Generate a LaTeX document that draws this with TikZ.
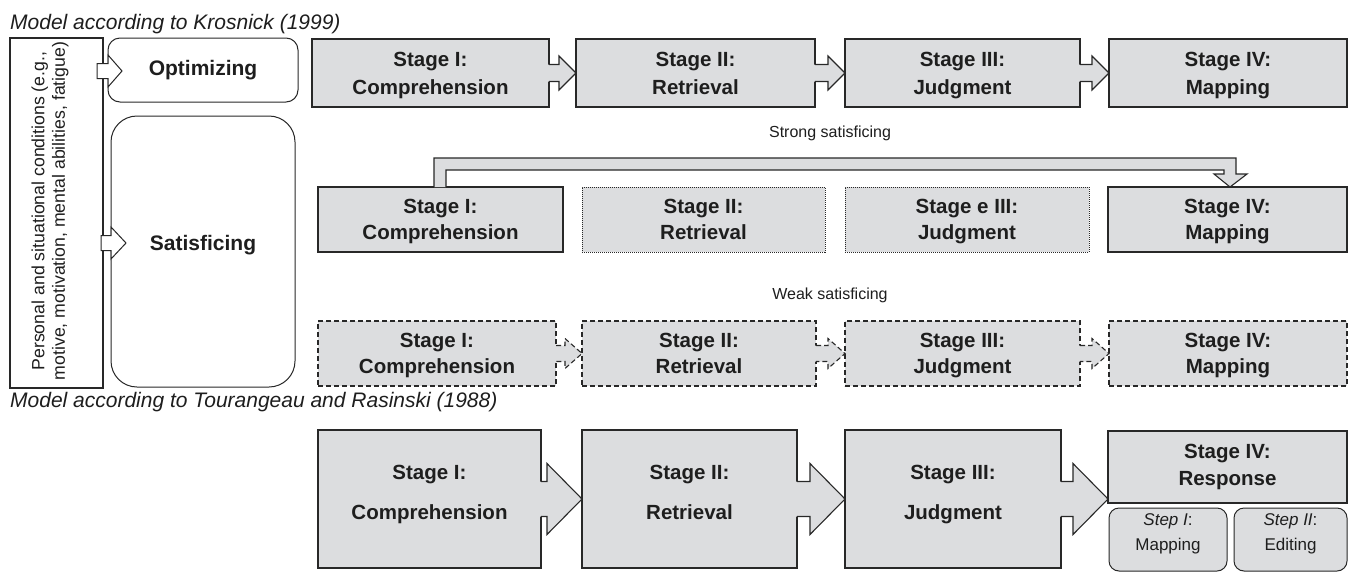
\documentclass[tikz,border=0pt]{standalone}
\usepackage{fontspec}
\setmainfont{Liberation Sans}
\usetikzlibrary{calc}
\definecolor{stagefill}{RGB}{220,221,223}
\definecolor{linecol}{RGB}{40,40,40}
\definecolor{textcol}{RGB}{30,30,30}
\newcommand\stagefont{\fontsize{20.5}{28}\selectfont\bfseries}
\newcommand\midstagefont{\fontsize{20.5}{26.5}\selectfont\bfseries}
\newcommand\bigstagefont{\fontsize{20.5}{40}\selectfont\bfseries}
\newcommand\respfont{\fontsize{20.5}{27}\selectfont\bfseries}
\newcommand\stepfont{\fontsize{17}{25}\selectfont}
\newcommand\twoline[2]{#1\\#2\vphantom{p}}
\newcommand\blockarr[6]{% #1 style, #2 from, #3 to, #4 head length, #5 shaft half, #6 head half
  \fill[stagefill] ($(#2.east)+(-1.5,-#5)$) -- ($(#3.west)+(-#4,-#5)$) -- ($(#3.west)+(-#4,-#6)$) -- (#3.west)
     -- ($(#3.west)+(-#4,#6)$) -- ($(#3.west)+(-#4,#5)$) -- ($(#2.east)+(-1.5,#5)$) -- cycle;
  \draw[#1] ($(#2.east)+(0,-#5)$) -- ($(#3.west)+(-#4,-#5)$) -- ($(#3.west)+(-#4,-#6)$) -- (#3.west)
     -- ($(#3.west)+(-#4,#6)$) -- ($(#3.west)+(-#4,#5)$) -- ($(#2.east)+(0,#5)$);
}
\tikzset{
  stagebox/.style={draw=linecol, fill=stagefill, line width=1.1pt, inner sep=0pt, outer sep=0pt,
    align=center, text=textcol, font=\stagefont},
  rowbox/.style={stagebox, text depth=0pt},
  midbox/.style={rowbox, font=\midstagefont},
  dottedbox/.style={midbox, line width=0.8pt, dash pattern=on 1pt off 1pt},
  dashedbox/.style={midbox, dash pattern=on 5pt off 3pt},
  plainbox/.style={draw=linecol, fill=white, line width=1.1pt, inner sep=0pt, outer sep=0pt},
  roundbox/.style={draw=linecol, fill=white, line width=1pt, inner sep=0pt, outer sep=0pt,
    align=center, text=textcol, font=\fontsize{21}{25}\selectfont\bfseries},
  solidarr/.style={draw=linecol, line width=1.1pt},
  dashedarr/.style={draw=linecol, line width=1.1pt, dash pattern=on 5pt off 3pt},
  titletext/.style={anchor=base west, inner sep=0pt, text=textcol, font=\fontsize{21}{25}\selectfont\itshape},
  labeltext/.style={inner sep=0pt, text=textcol, font=\fontsize{16}{19}\selectfont},
  stagetext/.style={inner sep=0pt, align=center, text=textcol},
  stepbox/.style={draw=linecol, fill=stagefill, line width=1pt, rounded corners=10pt, inner sep=0pt,
    outer sep=0pt},
  steptext/.style={inner sep=0pt, align=center, text=textcol, font=\stepfont},
}
\begin{document}
\begin{tikzpicture}[x=1pt,y=-1pt]
\useasboundingbox[fill=white] (0,0) rectangle (1349,571);

% titles
\node[titletext] (title1) at (10,29) {Model according to Krosnick (1999)};
\node[titletext] (title2) at (10,407) {Model according to Tourangeau and Rasinski (1988)};

% left column
\node[plainbox, minimum width=93, minimum height=350] (lbox) at (56.5,213) {};
\node[rotate=90, align=center, inner sep=0pt, text=textcol, font=\fontsize{17.7}{20.5}\selectfont] (ltext) at (50,211)
  {Personal and situational conditions (e.g.,\\motive, motivation, mental abilities, fatigue)};
\node[roundbox, rounded corners=12pt, minimum width=190, minimum height=64] (opt) at (203,70) {Optimizing};
\node[roundbox, rounded corners=26pt, minimum width=184, minimum height=271] (sat) at (203,251.5) {};
\node[stagetext, font=\fontsize{21}{25}\selectfont\bfseries] (sattext) at (203,245) {Satisficing};

\draw[draw=linecol, fill=white, line width=1pt]
  ($(opt.west)+(-11,-6.5)$) -- ($(opt.west)+(0,-6.5)$) -- ($(opt.west)+(0,-15)$) -- ($(opt.west)+(14,1)$)
  -- ($(opt.west)+(0,17)$) -- ($(opt.west)+(0,8.5)$) -- ($(opt.west)+(-11,8.5)$) -- cycle;
\coordinate (sa) at ($(sat.west)+(0,-8.5)$);
\draw[draw=linecol, fill=white, line width=1pt]
  ($(sa)+(-10,-7.5)$) -- ($(sa)+(0,-7.5)$) -- ($(sa)+(0,-16)$) -- ($(sa)+(15,0)$)
  -- ($(sa)+(0,16)$) -- ($(sa)+(0,7.5)$) -- ($(sa)+(-10,7.5)$) -- cycle;

% row 1: optimizing
\node[rowbox, minimum width=237, minimum height=68] (r1a) at (430.5,73) {\twoline{Stage I:}{Comprehension}};
\node[rowbox, minimum width=239, minimum height=68] (r1b) at (695.5,73) {\twoline{Stage II:}{Retrieval}};
\node[rowbox, minimum width=235, minimum height=68] (r1c) at (962.5,73) {\twoline{Stage III:}{Judgment}};
\node[rowbox, minimum width=238, minimum height=68] (r1d) at (1228,73) {\twoline{Stage IV:}{Mapping}};
\blockarr{solidarr}{r1a}{r1b}{17}{8.5}{17}
\blockarr{solidarr}{r1b}{r1c}{17}{8.5}{17}
\blockarr{solidarr}{r1c}{r1d}{17}{8.5}{17}

% row 2: strong satisficing
\node[labeltext] (strong) at (830,133) {Strong satisficing};
\node[midbox, minimum width=245, minimum height=65] (r2a) at (440.5,219.5) {\twoline{Stage I:}{Comprehension}};
\node[dottedbox, minimum width=243, minimum height=65] (r2b) at (703.5,219.5) {\twoline{Stage II:}{Retrieval}};
\node[dottedbox, minimum width=244, minimum height=65] (r2c) at (967,219.5) {\twoline{Stage e III:}{Judgment}};
\node[midbox, minimum width=239, minimum height=65] (r2d) at (1227.5,219.5) {\twoline{Stage IV:}{Mapping}};
\coordinate (tip) at ($(r2d.north)+(2.5,0)$);
\filldraw[fill=stagefill, draw=linecol, line width=1.1pt]
  ($(r2a.north west)+(116,0)$) -- ($(r2a.north west)+(116,-29)$) -- ($(tip)+(6,-29)$) -- ($(tip)+(6,-13)$)
  -- ($(tip)+(17,-13)$) -- (tip) -- ($(tip)+(-16,-13)$) -- ($(tip)+(-6,-13)$) -- ($(tip)+(-6,-17)$)
  -- ($(r2a.north west)+(128,-17)$) -- ($(r2a.north west)+(128,0)$);

% row 3: weak satisficing
\node[labeltext] (weak) at (830,295) {Weak satisficing};
\node[dashedbox, minimum width=238, minimum height=65] (r3a) at (437,353.5) {\twoline{Stage I:}{Comprehension}};
\node[dashedbox, minimum width=234, minimum height=65] (r3b) at (699,353.5) {\twoline{Stage II:}{Retrieval}};
\node[dashedbox, minimum width=235, minimum height=65] (r3c) at (962.5,353.5) {\twoline{Stage III:}{Judgment}};
\node[dashedbox, minimum width=238, minimum height=65] (r3d) at (1228,353.5) {\twoline{Stage IV:}{Mapping}};
\blockarr{dashedarr}{r3a}{r3b}{17}{8}{15}
\blockarr{dashedarr}{r3b}{r3c}{17}{8}{15}
\blockarr{dashedarr}{r3c}{r3d}{17}{8}{15}

% row 4: Tourangeau and Rasinski
\node[stagebox, minimum width=223, minimum height=138] (r4a) at (429.5,499) {};
\node[stagebox, minimum width=215, minimum height=138] (r4b) at (689.5,499) {};
\node[stagebox, minimum width=216, minimum height=138] (r4c) at (953,499) {};
\node[inner sep=0pt, outer sep=0pt, minimum width=239, minimum height=138] (r4d) at (1227.5,499) {};
\node[stagetext, font=\bigstagefont] (r4at) at (429.5,494.5) {\twoline{Stage I:}{Comprehension}};
\node[stagetext, font=\bigstagefont] (r4bt) at (689.5,494.5) {\twoline{Stage II:}{Retrieval}};
\node[stagetext, font=\bigstagefont] (r4ct) at (953,494.5) {\twoline{Stage III:}{Judgment}};
\node[stagebox, font=\respfont, minimum width=239, minimum height=72] (resp) at (1227.5,467) {\twoline{Stage IV:}{Response}};
\node[stepbox, minimum width=118, minimum height=63] (step1) at (1168,539.5) {};
\node[stepbox, minimum width=113, minimum height=63] (step2) at (1290.5,539.5) {};
\node[steptext] (step1t) at (1168,534) {\twoline{{\itshape Step I}:}{Mapping}};
\node[steptext] (step2t) at (1290.5,534) {\twoline{{\itshape Step II}:}{Editing}};
\blockarr{solidarr}{r4a}{r4b}{35}{17.5}{35.5}
\blockarr{solidarr}{r4b}{r4c}{35}{17.5}{35.5}
\blockarr{solidarr}{r4c}{r4d}{35}{17.5}{35.5}
\end{tikzpicture}
\end{document}
